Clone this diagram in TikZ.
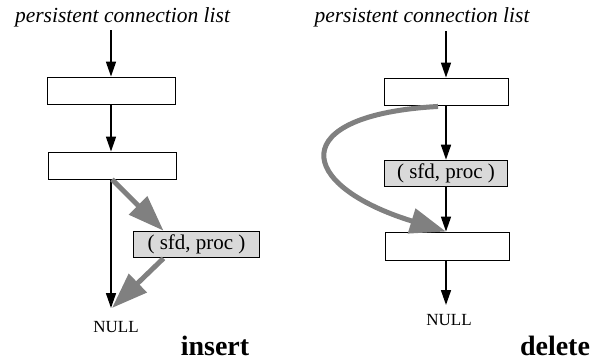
\documentclass[tikz,border=0pt]{standalone}
\usepackage{fontspec}
\setmainfont{Liberation Serif}
\usetikzlibrary{arrows.meta,calc}
\begin{document}
\begin{tikzpicture}[x=1pt,y=-1pt,
  box/.style={draw=black,line width=0.9pt,minimum width=128pt,minimum height=27pt,inner sep=0pt},
  graybox/.style={draw=black,line width=1.6pt,fill=black!15,minimum width=126pt,minimum height=26pt,inner sep=0pt,font=\rmfamily\fontsize{21}{23}\selectfont},
  link/.style={line width=1.6pt,-{Triangle[length=15pt,width=10pt]}},
  move/.style={line width=5pt,draw=black!50,-{Triangle[length=36pt,width=25pt]}},
  title/.style={font=\fontsize{21.5}{23}\selectfont\itshape,inner sep=0pt},
  nulltext/.style={font=\fontsize{17}{18}\selectfont,inner sep=0pt},
  caption/.style={font=\fontsize{28}{30}\selectfont\bfseries,inner sep=0pt}]
\useasboundingbox (0,0) rectangle (592,362);
% ---------- insert ----------
\node[title] (tL) at (122.5,17) {persistent connection list};
\coordinate (topL) at (111,30);
\node[box] (b1L) at (111.5,90.5) {};
\node[box] (b2L) at (112,165.5) {};
\node[graybox] (gL) at (196.5,244.5) {( sfd, proc )};
\coordinate (endL) at (111,308);
\node[nulltext] (nL) at (116,327) {NULL};
\node[caption] (insert) at (215,346) {insert};
\draw[link] (topL) -- (b1L.north -| topL);
\draw[link] (b1L.south -| topL) -- (b2L.north -| topL);
\draw[link] (b2L.south -| topL) -- (endL);
\coordinate (gLin) at ($(gL.north)+(-33,0)$);
\coordinate (gLout) at ($(gL.south)+(-33,0)$);
\draw[move] (b2L.south) -- (gLin);
\draw[move] (gLout) -- ($(endL)+(1,0)$);
% ---------- delete ----------
\node[title] (tR) at (422,17) {persistent connection list};
\coordinate (topR) at (446,31);
\node[box,minimum width=124pt] (b1R) at (446,91.5) {};
\node[graybox,minimum width=123pt] (gR) at (446,173.5) {( sfd, proc )};
\node[box,minimum width=124pt,minimum height=28pt] (b3R) at (447,246) {};
\coordinate (endR) at (446,305);
\node[nulltext] (nR) at (449,320) {NULL};
\node[caption] (delete) at (555,346) {delete};
\draw[link] (topR) -- (b1R.north -| topR);
\draw[link] (b1R.south -| topR) -- (gR.north -| topR);
\draw[link] (gR.south -| topR) -- (b3R.north -| topR);
\draw[link] (b3R.south -| topR) -- (endR);
\draw[move] ($(b1R.south)+(-8,1)$) .. controls (285,115) and (295,185) .. (b3R.north -| topR);
\end{tikzpicture}
\end{document}
